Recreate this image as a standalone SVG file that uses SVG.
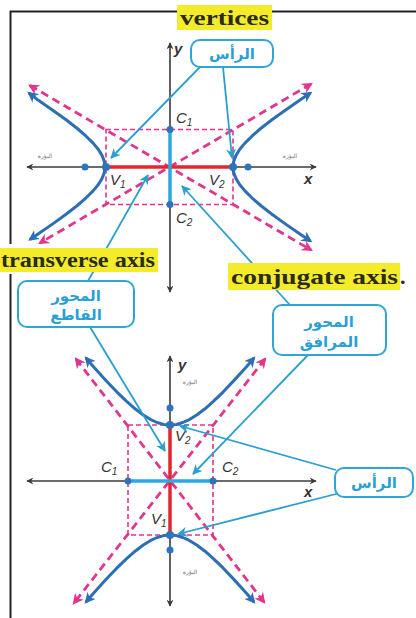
<svg xmlns="http://www.w3.org/2000/svg" width="416" height="618" viewBox="0 0 416 618">
<style>
.axis{stroke:#3a3a3a;stroke-width:1.6;fill:none}
.hyp{stroke:#2d6fb6;stroke-width:3;fill:none;stroke-linejoin:round}
.asy{stroke:#e2358c;stroke-width:2.8;fill:none;stroke-dasharray:8 5}
.box{stroke:#e2358c;stroke-width:1.6;fill:none;stroke-dasharray:5 3}
.tr{stroke:#e3262d;stroke-width:3.5}
.cj{stroke:#2aa8e2;stroke-width:3.5}
.ptr{stroke:#2b9fcf;stroke-width:1.8;fill:none}
.call{fill:#fff;stroke:#2fa6d6;stroke-width:2}
.ar{font-family:"DejaVu Sans",sans-serif;font-weight:bold;fill:#2a9fd6;text-anchor:middle;font-size:15px}
.lbl{font-family:"Liberation Sans",sans-serif;font-style:italic;fill:#333;font-size:15px}
.foc{font-family:"DejaVu Sans",sans-serif;font-size:6px;fill:#777;text-anchor:middle}
.hl{fill:#f4ec2a}
.en{font-family:"Liberation Serif",serif;font-weight:bold;font-size:22px;fill:#2b2b1a}
.dot{fill:#2e74b8}
</style>
<defs>
<marker id="ax" viewBox="0 0 10 10" refX="9" refY="5" markerWidth="7" markerHeight="7" orient="auto-start-reverse" markerUnits="userSpaceOnUse"><path d="M0,0 L10,5 L0,10 L3,5 z" fill="#3a3a3a"/></marker>
<marker id="ah" viewBox="0 0 10 10" refX="8" refY="5" markerWidth="11" markerHeight="11" orient="auto-start-reverse" markerUnits="userSpaceOnUse"><path d="M0,0 L10,5 L0,10 L3,5 z" fill="#2d6fb6"/></marker>
<marker id="ap" viewBox="0 0 10 10" refX="8" refY="5" markerWidth="11" markerHeight="11" orient="auto-start-reverse" markerUnits="userSpaceOnUse"><path d="M0,0 L10,5 L0,10 L3,5 z" fill="#e2358c"/></marker>
<marker id="ac" viewBox="0 0 10 10" refX="9" refY="5" markerWidth="10" markerHeight="10" orient="auto" markerUnits="userSpaceOnUse"><path d="M0,0 L10,5 L0,10 L3,5 z" fill="#2b9fcf"/></marker>
</defs>
<rect width="416" height="618" fill="#fff"/>
<path d="M10.5,618 V11.5 H416" stroke="#222" stroke-width="2" fill="none"/>

<g id="top-graph">
<rect class="box" x="106" y="129.5" width="127" height="75"/>
<line class="asy" x1="30" y1="85.5" x2="311" y2="250" marker-start="url(#ap)" marker-end="url(#ap)"/>
<line class="asy" x1="311" y1="84" x2="40" y2="243" marker-start="url(#ap)" marker-end="url(#ap)"/>
<line class="axis" x1="27" y1="167" x2="316" y2="167" marker-start="url(#ax)" marker-end="url(#ax)"/>
<line class="axis" x1="170" y1="43" x2="170" y2="292" marker-start="url(#ax)" marker-end="url(#ax)"/>
<line class="tr" x1="106" y1="167" x2="233" y2="167"/>
<line class="cj" x1="170" y1="129.5" x2="170" y2="204.5"/>
<path class="hyp" marker-start="url(#ah)" marker-end="url(#ah)" d="M310.5,93 L300.7,99.5 L284.9,110.4 L271.6,120 L260.7,128.5 L251.9,136.2 L244.9,143.1 L239.6,149.5 L235.9,155.6 L233.7,161.35 L233,167 L233.7,172.65 L235.9,178.4 L239.6,184.5 L244.9,190.9 L251.9,197.8 L260.7,205.5 L271.6,214 L284.9,223.6 L300.7,234.5 L310.5,241"/>
<path class="hyp" marker-start="url(#ah)" marker-end="url(#ah)" d="M29,93 L37.3,99.5 L53.1,110.4 L66.4,120 L77.3,128.5 L86.1,136.2 L93.1,143.1 L98.4,149.5 L102.1,155.6 L104.3,161.35 L105,167 L104.3,172.65 L102.1,178.4 L98.4,184.5 L93.1,190.9 L86.1,197.8 L77.3,205.5 L66.4,214 L53.1,223.6 L37.3,234.5 L30,239.5"/>
<circle class="dot" cx="85" cy="167" r="3.5"/>
<circle class="dot" cx="248" cy="167" r="3.5"/>
<circle class="dot" cx="106" cy="167" r="4"/>
<circle class="dot" cx="233" cy="167" r="4"/>
<circle class="dot" cx="170" cy="129.5" r="3.5"/>
<circle class="dot" cx="170" cy="204.5" r="3.5"/>
<text class="lbl" x="174" y="54" font-weight="bold">y</text>
<text class="lbl" x="304" y="184" font-weight="bold">x</text>
<text class="lbl" x="176" y="123">C<tspan font-size="10" dy="3">1</tspan></text>
<text class="lbl" x="176" y="223">C<tspan font-size="10" dy="3">2</tspan></text>
<text class="lbl" x="110" y="185">V<tspan font-size="10" dy="3">1</tspan></text>
<text class="lbl" x="209" y="185">V<tspan font-size="10" dy="3">2</tspan></text>
<text class="foc" x="45" y="158">البؤرة</text>
<text class="foc" x="290" y="158">البؤرة</text>
</g>

<g id="bottom-graph">
<rect class="box" x="128" y="425" width="85" height="110"/>
<line class="asy" x1="76" y1="359" x2="264" y2="602" marker-start="url(#ap)" marker-end="url(#ap)"/>
<line class="asy" x1="265" y1="359" x2="74" y2="603" marker-start="url(#ap)" marker-end="url(#ap)"/>
<line class="axis" x1="27" y1="481" x2="316" y2="481" marker-start="url(#ax)" marker-end="url(#ax)"/>
<line class="axis" x1="170" y1="356" x2="170" y2="606" marker-start="url(#ax)" marker-end="url(#ax)"/>
<line class="tr" x1="170" y1="425" x2="170" y2="535"/>
<line class="cj" x1="128" y1="481" x2="213" y2="481"/>
<path class="hyp" marker-start="url(#ah)" marker-end="url(#ah)" d="M86,358 L93.5,366.8 L105.9,380.4 L116.7,391.8 L126.4,401.2 L135.1,408.8 L142.9,414.8 L150.2,419.3 L157.1,422.5 L163.6,424.4 L170,425 L176.4,424.4 L182.9,422.5 L189.8,419.3 L197.1,414.8 L205,408.8 L213.6,401.2 L223.3,391.8 L234.1,380.4 L246.5,366.8 L254,358"/>
<path class="hyp" marker-start="url(#ah)" marker-end="url(#ah)" d="M86,602 L93.5,593.2 L105.9,579.6 L116.7,568.2 L126.4,558.8 L135.1,551.2 L142.9,545.2 L150.2,540.7 L157.1,537.5 L163.6,535.6 L170,535 L176.4,535.6 L182.9,537.5 L189.8,540.7 L197.1,545.2 L205,551.2 L213.6,558.8 L223.3,568.2 L234.1,579.6 L246.5,593.2 L254,602"/>
<circle class="dot" cx="170" cy="408" r="3.5"/>
<circle class="dot" cx="170" cy="550" r="3.5"/>
<circle class="dot" cx="170" cy="425" r="4"/>
<circle class="dot" cx="170" cy="535" r="4"/>
<circle class="dot" cx="128" cy="481" r="3.5"/>
<circle class="dot" cx="213" cy="481" r="3.5"/>
<text class="lbl" x="178" y="370" font-weight="bold">y</text>
<text class="lbl" x="304" y="497" font-weight="bold">x</text>
<text class="lbl" x="101" y="472">C<tspan font-size="10" dy="3">1</tspan></text>
<text class="lbl" x="222" y="472">C<tspan font-size="10" dy="3">2</tspan></text>
<text class="lbl" x="151" y="524">V<tspan font-size="10" dy="3">1</tspan></text>
<text class="lbl" x="175" y="441">V<tspan font-size="10" dy="3">2</tspan></text>
<text class="foc" x="190" y="384">البؤرة</text>
<text class="foc" x="190" y="574">البؤرة</text>
</g>

<g id="connectors">
<line class="ptr" x1="200" y1="67" x2="111" y2="158" marker-end="url(#ac)"/>
<line class="ptr" x1="223" y1="67" x2="232" y2="158" marker-end="url(#ac)"/>
<line class="ptr" x1="88" y1="281" x2="148" y2="175" marker-end="url(#ac)"/>
<line class="ptr" x1="290" y1="305" x2="182" y2="186" marker-end="url(#ac)"/>
<line class="ptr" x1="90" y1="327" x2="165" y2="451" marker-end="url(#ac)"/>
<line class="ptr" x1="308" y1="355" x2="193" y2="474" marker-end="url(#ac)"/>
<line class="ptr" x1="336" y1="470" x2="180" y2="426" marker-end="url(#ac)"/>
<line class="ptr" x1="340" y1="493" x2="178" y2="534" marker-end="url(#ac)"/>
</g>

<g id="callout-vertex-top">
<rect class="call" x="191" y="40" width="82" height="27" rx="9"/>
<text class="ar" x="232" y="59">الرأس</text>
</g>
<g id="callout-transverse">
<rect class="call" x="18" y="281" width="116" height="46" rx="9"/>
<text class="ar" x="76" y="301">المحور</text>
<text class="ar" x="76" y="320">القاطع</text>
</g>
<g id="callout-conjugate">
<rect class="call" x="273" y="305" width="113" height="50" rx="9"/>
<text class="ar" x="329" y="327">المحور</text>
<text class="ar" x="329" y="347">المرافق</text>
</g>
<g id="callout-vertex-bottom">
<rect class="call" x="335" y="468" width="78" height="29" rx="9"/>
<text class="ar" x="374" y="488">الرأس</text>
</g>

<g id="label-vertices">
<rect class="hl" x="177" y="5" width="95" height="25"/>
<text class="en" x="180" y="25" textLength="89" lengthAdjust="spacingAndGlyphs">vertices</text>
</g>
<g id="label-transverse">
<rect x="0" y="244" width="12" height="30" fill="#fff"/>
<rect class="hl" x="0" y="248" width="158" height="24"/>
<text class="en" x="1" y="267" textLength="154" lengthAdjust="spacingAndGlyphs">transverse axis</text>
</g>
<g id="label-conjugate">
<rect class="hl" x="228" y="263" width="172" height="27"/>
<text class="en" x="231" y="284" textLength="167" lengthAdjust="spacingAndGlyphs">conjugate axis</text>
<text class="en" x="400" y="284">.</text>
</g>
</svg>
